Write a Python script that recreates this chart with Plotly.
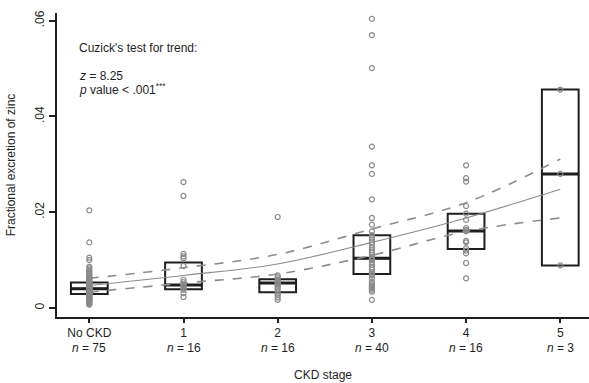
import plotly.graph_objects as go

# CKD stages and sample sizes
stages = ["No CKD", "1", "2", "3", "4", "5"]
n_per_stage = [75, 16, 16, 40, 16, 3]
positions = [0, 1, 2, 3, 4, 5]

# Box summaries (quartiles and median) per stage
q1 = [0.0029, 0.0039, 0.0033, 0.0071, 0.0123, 0.0089]
median = [0.0040, 0.0048, 0.0052, 0.0104, 0.0161, 0.0280]
q3 = [0.0053, 0.0095, 0.0060, 0.0152, 0.0197, 0.0456]

# Individual fractional excretion values per stage
fe_no_ckd = [0.0204, 0.0137, 0.0105, 0.0100,
             0.0086, 0.0083, 0.0080, 0.0077, 0.0074, 0.0071, 0.0068, 0.0066,
             0.0064, 0.0062, 0.0060, 0.0058, 0.0056, 0.0054, 0.0053,
             0.0052, 0.0052, 0.0051, 0.0050, 0.0050, 0.0049, 0.0048, 0.0048,
             0.0047, 0.0046, 0.0046, 0.0045, 0.0044, 0.0044, 0.0043, 0.0042,
             0.0042, 0.0041, 0.0040,
             0.0040, 0.0039, 0.0039, 0.0038, 0.0037, 0.0037, 0.0036, 0.0035,
             0.0035, 0.0034, 0.0033, 0.0033, 0.0032, 0.0031, 0.0031, 0.0030,
             0.0030, 0.0029,
             0.0028, 0.0027, 0.0026, 0.0025, 0.0024, 0.0023, 0.0022, 0.0021,
             0.0020, 0.0019, 0.0018, 0.0017, 0.0016, 0.0015, 0.0014, 0.0012,
             0.0010, 0.0008, 0.0007]
fe_stage1 = [0.0263, 0.0234, 0.0113, 0.0108, 0.0104, 0.0088, 0.0059, 0.0054,
             0.0050, 0.0048, 0.0046, 0.0044, 0.0041, 0.0038, 0.0031, 0.0023]
fe_stage2 = [0.0190, 0.0068, 0.0064, 0.0060, 0.0057, 0.0054, 0.0052, 0.0050,
             0.0047, 0.0044, 0.0040, 0.0035, 0.0030, 0.0027, 0.0022, 0.0017]
fe_stage3 = [0.0604, 0.0570, 0.0501, 0.0337, 0.0298, 0.0280, 0.0227, 0.0188,
             0.0174, 0.0160, 0.0152, 0.0147, 0.0142, 0.0137, 0.0132, 0.0126,
             0.0121, 0.0116, 0.0111, 0.0106, 0.0104, 0.0102, 0.0100, 0.0095,
             0.0090, 0.0085, 0.0080, 0.0075, 0.0071, 0.0068, 0.0062, 0.0055,
             0.0050, 0.0047, 0.0045, 0.0043, 0.0041, 0.0038, 0.0034, 0.0017]
fe_stage4 = [0.0298, 0.0271, 0.0264, 0.0213, 0.0197, 0.0184, 0.0167, 0.0163,
             0.0160, 0.0140, 0.0137, 0.0125, 0.0120, 0.0114, 0.0094, 0.0062]
fe_stage5 = [0.0456, 0.0280, 0.0089]
fe_values = [fe_no_ckd, fe_stage1, fe_stage2, fe_stage3, fe_stage4, fe_stage5]

# Fitted trend and its confidence band, evaluated at each stage
trend_fit = [0.0047, 0.0068, 0.0092, 0.0137, 0.0188, 0.0248]
trend_upper = [0.0062, 0.0084, 0.0112, 0.0165, 0.0220, 0.0311]
trend_lower = [0.0033, 0.0052, 0.0071, 0.0110, 0.0160, 0.0188]

# Axis ticks
y_tickvals = [0, 0.02, 0.04, 0.06]
y_ticktext = ["0", ".02", ".04", ".06"]

FONT = "Liberation Sans, Arial, sans-serif"
INK = "#1e1e1e"
POINT_GREY = "#8a8a8a"

PLOT_H = 383 - 13 - 66  # plot-area height in px

fig = go.Figure()

# Boxes without whiskers (fences at the quartiles)
fig.add_trace(go.Box(
    x=positions, q1=q1, median=median, q3=q3,
    lowerfence=q1, upperfence=q3,
    width=0.39, boxpoints=False,
    fillcolor="rgba(0,0,0,0)",
    line=dict(color=INK, width=2),
    hoverinfo="skip", showlegend=False,
))

# Heavier median bars
fig.add_trace(go.Scatter(
    x=positions, y=median, mode="markers",
    marker=dict(symbol="line-ew", size=27, color=INK,
                line=dict(color=INK, width=3)),
    hoverinfo="skip", showlegend=False,
))

# Trend line with dashed confidence limits
for vals, dash, width in [(trend_upper, "dash", 1.6),
                          (trend_lower, "dash", 1.6),
                          (trend_fit, "solid", 1.1)]:
    fig.add_trace(go.Scatter(
        x=positions, y=vals, mode="lines",
        line=dict(color="#8c8c8c", width=width, dash=dash, shape="spline"),
        hoverinfo="skip", showlegend=False,
    ))

# Individual observations
for pos, vals in zip(positions, fe_values):
    fig.add_trace(go.Scatter(
        x=[pos] * len(vals), y=vals, mode="markers",
        marker=dict(symbol="circle-open", size=5, color=POINT_GREY,
                    line=dict(color=POINT_GREY, width=1.2)),
        hoverinfo="skip", showlegend=False,
    ))

# Sample size under each stage label
n_labels = [
    dict(text=f"<i>n</i> = {n}", x=p, xref="x", y=0, yref="paper",
         yshift=-30.5, xanchor="center", yanchor="middle",
         showarrow=False, font=dict(size=12))
    for p, n in zip(positions, n_per_stage)
]

fig.update_layout(
    width=589, height=383,
    margin=dict(l=57, r=0, t=13, b=66, pad=0),
    paper_bgcolor="white", plot_bgcolor="white",
    font=dict(family=FONT, size=12, color=INK),
    showlegend=False,
    xaxis=dict(
        range=[-0.343, 5.305],
        tickmode="array", tickvals=positions, ticktext=stages,
        showgrid=False, zeroline=False,
        showline=True, linecolor=INK, linewidth=1.5,
        ticks="outside", ticklen=4, tickwidth=1.5, tickcolor=INK,
        tickfont=dict(size=12),
        title=dict(text="CKD stage", font=dict(size=12), standoff=31),
    ),
    yaxis=dict(
        range=[-0.00188, 0.0616],
        tickmode="array", tickvals=y_tickvals, ticktext=y_ticktext,
        tickangle=-90,
        showgrid=False, zeroline=False,
        showline=True, linecolor=INK, linewidth=1.5,
        ticks="outside", ticklen=6, tickwidth=1.5, tickcolor=INK,
        tickfont=dict(size=12),
        title=dict(text="Fractional excretion of zinc", font=dict(size=12), standoff=15),
    ),
    annotations=n_labels + [
        dict(text="Cuzick's test for trend:", xref="paper", yref="paper",
             x=(77 - 57) / 532, y=(316.7 - 48) / PLOT_H, xanchor="left", yanchor="middle",
             showarrow=False, font=dict(size=12)),
        dict(text="<i>z</i> = 8.25", xref="paper", yref="paper",
             x=(77 - 57) / 532, y=(316.7 - 76) / PLOT_H, xanchor="left", yanchor="middle",
             showarrow=False, font=dict(size=12)),
        dict(text="<i>p</i> value < .001<sup>***</sup>", xref="paper", yref="paper",
             x=(77 - 57) / 532, y=(316.7 - 89) / PLOT_H, xanchor="left", yanchor="middle",
             showarrow=False, font=dict(size=12)),
    ],
)

fig.write_html("out.html")
